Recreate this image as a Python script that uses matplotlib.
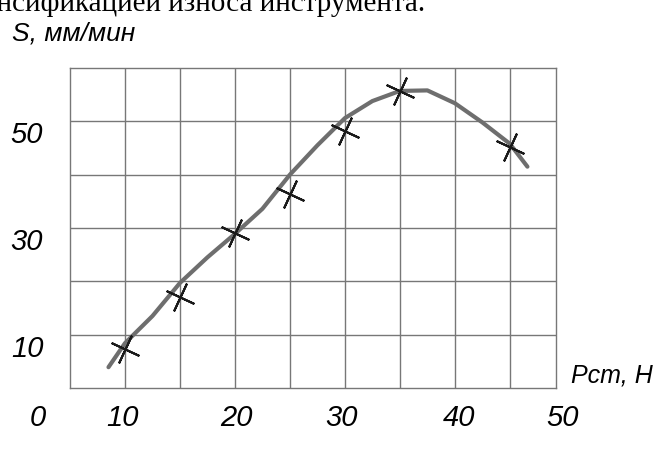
import matplotlib
matplotlib.use("Agg")
import matplotlib.pyplot as plt
import matplotlib.transforms as mtransforms

# --- данные ---
# точки эксперимента (кресты)
POINT_P = [10, 15, 20, 25, 30, 35, 45]
POINT_S = [7.3, 17.1, 29.1, 36.4, 48.2, 55.7, 45.2]

# сглаженная кривая (серая)
CURVE_P = [8.5, 10, 12.5, 15, 17.5, 20, 22.5, 25, 27.5, 30, 32.5, 35, 37.5, 40, 42.5, 45, 46.6]
CURVE_S = [3.9, 8.4, 13.5, 19.7, 24.5, 28.9, 33.6, 40.0, 45.5, 50.6, 53.8, 55.7, 55.8, 53.4, 49.8, 45.8, 41.5]

# сетка и подписи
GRID_X = [10, 15, 20, 25, 30, 35, 40, 45]
GRID_Y = [10, 20, 30, 40, 50]
XTICK_LABELS = ["0", "10", "20", "30", "40", "50"]
XTICK_POS = [2.1, 9.8, 20.1, 29.7, 40.4, 49.8]
YTICK_LABELS = ["50", "30", "10"]
YTICK_POS = [50, 30, 10]

TOP_TEXT = "интенсификацией износа инструмента."
Y_TITLE = "S, мм/мин"
X_TITLE = "Рст, Н"

GOST = dict(family=["Liberation Sans", "DejaVu Sans"], style="italic")

fig = plt.figure(figsize=(6.6, 4.5), dpi=100)
ax = fig.add_axes([70 / 660, 1 - 388 / 450, (556 - 70) / 660, (388 - 68) / 450])
ax.set_xlim(5, 49.2)
ax.set_ylim(0, 60)

# сетка
for gx in GRID_X:
    ax.axvline(gx, color="#777777", lw=1.0, zorder=1)
for gy in GRID_Y:
    ax.axhline(gy, color="#777777", lw=1.0, zorder=1)
for sp in ax.spines.values():
    sp.set_color("#777777")
    sp.set_linewidth(1.0)
ax.set_xticks([]); ax.set_yticks([])

# кривая и точки
ax.plot(CURVE_P, CURVE_S, color="#6e6e6e", lw=3.0, solid_capstyle="round", zorder=3)
ax.plot(POINT_P, POINT_S, linestyle="none", marker=(4, 2, -25), markersize=22,
        markeredgewidth=1.5, color="#1a1a1a", zorder=4)

# подписи по осям
xtr = mtransforms.blended_transform_factory(ax.transData, fig.transFigure)
for lab, pos in zip(XTICK_LABELS, XTICK_POS):
    fig.text(pos, 1 - 418 / 450, lab, transform=xtr, ha="center", va="center",
             fontsize=21, **GOST)
ytr = mtransforms.blended_transform_factory(fig.transFigure, ax.transData)
for lab, pos in zip(YTICK_LABELS, YTICK_POS):
    fig.text(27 / 660, pos, lab, transform=ytr, ha="center", va="top",
             fontsize=21, **GOST)

fig.text(12 / 660, 1 - 33 / 450, Y_TITLE, ha="left", va="center", fontsize=19, **GOST)
fig.text(653 / 660, 1 - 375 / 450, X_TITLE, ha="right", va="center", fontsize=18, **GOST)

# обрезанная строка текста сверху
fig.text(425 / 660, 1 - 11 / 450, TOP_TEXT, ha="right", va="baseline",
         fontsize=21, family=["Liberation Serif", "DejaVu Serif"])

fig.savefig("out.png", dpi=100, facecolor="white")
